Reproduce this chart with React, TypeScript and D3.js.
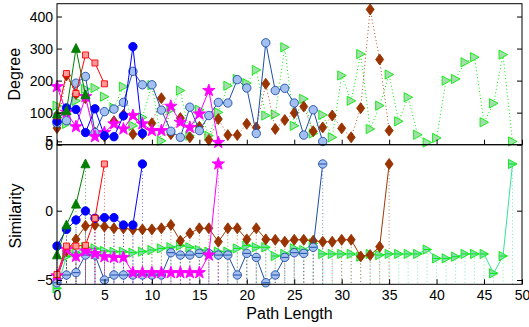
import React, { useEffect, useRef } from 'react';
import * as d3 from 'd3';

// x axis ticks (last tick sits on the right edge and is labelled 50)
const xTicks = [0, 5, 10, 15, 20, 25, 30, 35, 40, 45, 49];
const xTickLabels = ['0', '5', '10', '15', '20', '25', '30', '35', '40', '45', '50'];
const degreeTicks = [0, 100, 200, 300, 400];
const simTicks = [-5, 0, 5];

// each series: index = path length step
const degreeA = [95, 105, 300, 155];
const simA = [-3.2, -1.03, 0.46, 3.37];

const degreeB = [90, 222, 160, 280, 255, 190];
const simB = [-4.6, -2.55, -2.55, -2.5, -0.55, 3.37];

const degreeC = [73, 115, 110, 38, 112, 28, 25, 90, 306, 35];
const simC = [-2.55, -1.35, -0.67, -0.02, -0.55, -0.5, -0.5, -1.03, -1.03, 3.37];

const degreeD = [181, 101, 56, 150, 25, 38, 65, 49, 91, 65, 44, 44, 120, 70, 54, 96, 169, 7];
const simD = [-4.7, -2.8, -3.3, -2.9, -3.1, -3.32, -3.37, -3.37, -4.47, -4.47, -4.47, -4.47, -4.47, -4.47, -4.47, -4.47, -3.2, 3.37];

const degreeE = [67, 75, 192, 213, 38, 103, 111, 132, 229, 187, 187, 108, 42, 23, 117, 44, 91, 132, 130, 203, 177, 35, 318, 169, 176, 130, 30, 109, 10];
const simE = [-5.2, -4.64, -4.47, -3.2, -3.2, -5.0, -4.64, -4.64, -4.64, -4.64, -4.64, -4.64, -3.03, -3.2, -3.2, -3.08, -3.08, -3.2, -3.2, -4.64, -3.08, -3.37, -5.2, -4.64, -3.37, -3.03, -3.08, -2.64, 3.37];

const degreeF = [52, 216, 158, 145, 38, 26, 73, 93, 33, 33, 67, 145, 33, 83, 23, 56, 15, 80, 30, 30, 65, 54, 190, 49, 77, 99, 119, 42, 54, 91, 51, 23, 114, 422, 266, 44];
const simF = [-4.9, -2.9, -2.07, -1.1, -1.03, -1.15, -1.27, -1.27, -1.35, -1.35, -1.35, -1.27, -1.03, -2.17, -1.63, -1.27, -1.27, -2.24, -1.27, -1.27, -2.07, -1.27, -2.07, -2.1, -2.24, -2.1, -2.1, -2.17, -2.24, -2.24, -2.1, -2.1, -3.3, -3.2, -2.6, 3.37];

const degreeG = [122, 65, 137, 174, 177, 150, 115, 181, 59, 85, 186, 12, 109, 169, 28, 109, 28, 101, 184, 205, 192, 233, 91, 94, 304, 59, 143, 35, 93, 23, 216, 137, 283, 49, 122, 219, 73, 148, 31, 7, 21, 200, 205, 257, 273, 70, 129, 281, 10];
const simG = [-5.6, -3.3, -3.03, -2.64, -2.72, -2.9, -2.96, -2.96, -3.03, -2.96, -2.84, -2.72, -2.64, -2.52, -2.64, -2.84, -2.96, -2.96, -2.96, -2.72, -2.52, -2.64, -2.64, -3.27, -3.12, -2.72, -2.84, -2.36, -3.12, -3.12, -3.12, -3.12, -3.32, -3.12, -3.2, -3.12, -3.12, -3.12, -3.12, -2.8, -3.44, -3.44, -3.32, -3.12, -3.12, -3.12, -4.52, -3.27, 3.37];

const FONT = '"Liberation Sans", Arial, Helvetica, sans-serif';

// marker shapes centred on 0,0
const markerPath = (type: string) => {
  if (type === 'circle') return 'M4.2,0A4.2,4.2,0,1,1,-4.2,0A4.2,4.2,0,1,1,4.2,0Z';
  if (type === 'triUp') return 'M0,-5L4.5,3.8L-4.5,3.8Z';
  if (type === 'triRight') return 'M4.5,0L-4,-4.6L-4,4.6Z';
  if (type === 'square') return 'M-3,-3h6v6h-6Z';
  if (type === 'diamond') return 'M0,-5.5L4,0L0,5.5L-4,0Z';
  // pentagram
  const pts = d3.range(10).map(i => {
    const r = i % 2 === 0 ? 6.5 : 2.6;
    const a = -Math.PI / 2 + (i * Math.PI) / 5;
    return [r * Math.cos(a), r * Math.sin(a)];
  });
  return 'M' + pts.map(p => p.join(',')).join('L') + 'Z';
};

// drawn from the longest path to the shortest so short ones sit on top
const series = [
  { deg: degreeG, sim: simG, marker: 'triRight', line: '#00ee00', simLine: '#33e39a', fill: '#a6dcb0', simFill: '#8cd8c0', edge: '#00ee00', dotted: true, bar: true },
  { deg: degreeF, sim: simF, marker: 'diamond', line: '#b0502a', simLine: '#a03a08', fill: '#993300', simFill: '#993300', edge: '#993300', dotted: true, bar: false },
  { deg: degreeE, sim: simE, marker: 'circle', line: '#1f4ea8', simLine: '#1f4ea8', fill: '#a3c0f0', simFill: '#a3c0f0', edge: '#1f4ea8', dotted: false, bar: true },
  { deg: degreeD, sim: simD, marker: 'star', line: '#ff00ff', simLine: '#ff00ff', fill: '#ff00ff', simFill: '#ff00ff', edge: '#ff00ff', dotted: false, bar: false },
  { deg: degreeC, sim: simC, marker: 'circle', line: '#0000ff', simLine: '#0000ff', fill: '#0000ff', simFill: '#0000ff', edge: '#0000ff', dotted: false, bar: false },
  { deg: degreeB, sim: simB, marker: 'square', line: '#ff0000', simLine: '#ff0000', fill: '#ff9a9a', simFill: '#ff9a9a', edge: '#ff0000', dotted: false, bar: false },
  { deg: degreeA, sim: simA, marker: 'triUp', line: '#007f00', simLine: '#007f00', fill: '#007f00', simFill: '#007f00', edge: '#007f00', dotted: false, bar: false },
];

const App = () => {
  const ref = useRef<SVGSVGElement>(null);

  useEffect(() => {
    const svg = d3.select(ref.current);
    svg.selectAll('*').remove();

    const left = 57, right = 522;
    const top1 = 3.7, bottom1 = 144.7, bottom2 = 284.3;

    const x = d3.scaleLinear().domain([0, 49]).range([left, right]);
    const yDeg = d3.scaleLinear().domain([0, 440]).range([bottom1, top1]);
    const ySim = d3.scaleLinear().domain([-5.31, 4.76]).range([bottom2, bottom1]);

    // dotted stems in the similarity panel
    const stems = svg.append('g');
    series.forEach(s => {
      s.sim.forEach((v, i) => {
        stems.append('line')
          .attr('x1', x(i)).attr('x2', x(i))
          .attr('y1', ySim(v)).attr('y2', bottom2)
          .attr('stroke', s.simLine)
          .attr('stroke-width', 0.8)
          .attr('stroke-dasharray', '1,2.5')
          .attr('opacity', 0.8);
      });
    });

    // degree panel
    series.forEach(s => {
      const line = d3.line<number>().x((d, i) => x(i)).y(d => yDeg(d));
      svg.append('path')
        .attr('d', line(s.deg))
        .attr('fill', 'none')
        .attr('stroke', s.line)
        .attr('stroke-width', 1)
        .attr('stroke-dasharray', s.dotted ? '1,2.5' : null);
      svg.append('g').selectAll('path')
        .data(s.deg)
        .join('path')
        .attr('d', markerPath(s.marker))
        .attr('transform', (d, i) => `translate(${x(i)},${yDeg(d)})`)
        .attr('fill', s.fill)
        .attr('stroke', s.edge)
        .attr('stroke-width', 0.9);
    });

    // similarity panel
    series.forEach(s => {
      const line = d3.line<number>().x((d, i) => x(i)).y(d => ySim(d));
      svg.append('path')
        .attr('d', line(s.sim))
        .attr('fill', 'none')
        .attr('stroke', s.simLine)
        .attr('stroke-width', 1);
      const m = svg.append('g').selectAll('g')
        .data(s.sim)
        .join('g')
        .attr('transform', (d, i) => `translate(${x(i)},${ySim(d)})`);
      m.append('path')
        .attr('d', markerPath(s.marker))
        .attr('fill', s.simFill)
        .attr('stroke', s.edge)
        .attr('stroke-width', 0.9);
      if (s.bar) {
        m.append('line')
          .attr('x1', -3.5).attr('x2', 3.5)
          .attr('stroke', s.edge)
          .attr('stroke-width', 1);
      }
    });

    const style = (g: any) => {
      g.attr('font-size', 14).attr('font-family', FONT).attr('color', '#000');
      g.select('.domain').remove();
    };

    // degree axes
    svg.append('g')
      .attr('transform', `translate(${left},0)`)
      .call(d3.axisLeft(yDeg).tickValues(degreeTicks).tickSize(-5).tickPadding(4).tickFormat(d3.format('d')))
      .call(style);
    svg.append('g')
      .attr('transform', `translate(${right},0)`)
      .call(d3.axisRight(yDeg).tickValues(degreeTicks).tickSize(-5).tickFormat(() => ''))
      .call(style);
    svg.append('g')
      .attr('transform', `translate(0,${bottom1})`)
      .call(d3.axisBottom(x).tickValues(xTicks).tickSize(-5).tickFormat(() => ''))
      .call(style);

    // similarity axes
    svg.append('g')
      .attr('transform', `translate(${left},0)`)
      .call(d3.axisLeft(ySim).tickValues(simTicks).tickSize(-5).tickPadding(4))
      .call(style);
    svg.append('g')
      .attr('transform', `translate(${right},0)`)
      .call(d3.axisRight(ySim).tickValues(simTicks.slice(0, 2)).tickSize(-5).tickFormat(() => ''))
      .call(style);
    svg.append('g')
      .attr('transform', `translate(0,${bottom2})`)
      .call(d3.axisBottom(x).tickValues(xTicks).tickSize(-5).tickPadding(6).tickFormat((d, i) => xTickLabels[i]))
      .call(style);

    // boxes
    [[top1, bottom1], [bottom1, bottom2]].forEach(([t, b]) => {
      svg.append('rect')
        .attr('x', left).attr('y', t)
        .attr('width', right - left).attr('height', b - t)
        .attr('fill', 'none')
        .attr('stroke', '#000')
        .attr('stroke-width', 1);
    });

    // axis titles
    svg.append('text')
      .attr('x', (left + right) / 2).attr('y', 319)
      .attr('text-anchor', 'middle')
      .attr('font-size', 16).attr('font-family', FONT)
      .text('Path Length');
    svg.append('text')
      .attr('transform', `translate(19.5,${(top1 + bottom1) / 2}) rotate(-90)`)
      .attr('text-anchor', 'middle')
      .attr('font-size', 16).attr('font-family', FONT)
      .text('Degree');
    svg.append('text')
      .attr('transform', `translate(20.5,216) rotate(-90)`)
      .attr('text-anchor', 'middle')
      .attr('font-size', 16).attr('font-family', FONT)
      .text('Similarity');
  }, []);

  return <svg ref={ref} width={529} height={327} style={{ position: 'absolute', left: 0, top: 0, background: '#fff' }} />;
};

export default App;
